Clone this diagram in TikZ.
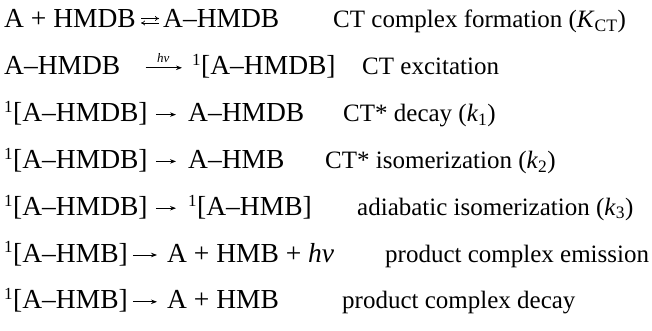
\documentclass[tikz,border=0pt]{standalone}
\usepackage{fontspec}
\setmainfont{Liberation Serif}
\newfontfamily\eqfont{Liberation Serif}
\usetikzlibrary{arrows.meta}
\tikzset{
  eqn/.style={anchor=base west, inner sep=0pt, font=\eqfont\fontsize{27.5}{32}\selectfont},
  desc/.style={anchor=base west, inner sep=0pt, font=\eqfont\fontsize{25}{30}\selectfont},
  rxn/.style={line width=0.8pt, -{Stealth[length=6pt,width=4.5pt]}},
  eqm/.style={line width=0.7pt, -{To[length=4pt,width=5pt]}},
}
\newcommand{\sing}{\textsuperscript{\fontsize{17}{20}\selectfont 1}}
\newcommand{\rate}[2]{(\textit{#1}\textsubscript{#2})}

\begin{document}
\begin{tikzpicture}[x=1pt, y=1pt]
		%%%%% START %%%%%
		\useasboundingbox (0, 0) rectangle (652, 330);
		
		% complex formation
		\node[eqn] (l1) at (4, 302) {A + HMDB};
		\node[eqn] (r1) at (163, 302) {A–HMDB};
		\node[desc] (d1) at (333, 302) {CT complex formation \rate{K}{CT}};
		\draw[eqm, shorten <=5pt, shorten >=4pt]
			([yshift=9.5pt]l1.base east) -- ([yshift=9.5pt]r1.base west);
		\draw[eqm, shorten <=4pt, shorten >=5pt]
			([yshift=5pt]r1.base west) -- ([yshift=5pt]l1.base east);
		
		% excitation
		\node[eqn] (l2) at (4, 255.2) {A–HMDB};
		\node[eqn] (r2) at (192, 255.2) {\sing[A–HMDB]};
		\node[desc] (d2) at (362, 255.2) {CT excitation};
		\draw[rxn, shorten <=25pt, shorten >=10pt]
			([yshift=7pt]l2.base east) -- ([yshift=7pt]r2.base west)
			node[midway, above=1pt, xshift=7pt, font=\eqfont\fontsize{13}{15}\selectfont\itshape] {hν};
		
		% CT* decay
		\node[eqn] (l3) at (4, 208.4) {\sing[A–HMDB]};
		\node[eqn] (r3) at (188, 208.4) {A–HMDB};
		\node[desc] (d3) at (343, 208.4) {CT* decay \rate{k}{1}};
		\draw[rxn, shorten <=8pt, shorten >=12pt]
			([yshift=7pt]l3.base east) -- ([yshift=7pt]r3.base west);
		
		% CT* isomerization
		\node[eqn] (l4) at (4, 161.6) {\sing[A–HMDB]};
		\node[eqn] (r4) at (188, 161.6) {A–HMB};
		\node[desc] (d4) at (325, 161.6) {CT* isomerization \rate{k}{2}};
		\draw[rxn, shorten <=8pt, shorten >=12pt]
			([yshift=7pt]l4.base east) -- ([yshift=7pt]r4.base west);
		
		% adiabatic isomerization
		\node[eqn] (l5) at (4, 114.8) {\sing[A–HMDB]};
		\node[eqn] (r5) at (188, 114.8) {\sing[A–HMB]};
		\node[desc] (d5) at (357, 114.8) {adiabatic isomerization \rate{k}{3}};
		\draw[rxn, shorten <=8pt, shorten >=12pt]
			([yshift=7pt]l5.base east) -- ([yshift=7pt]r5.base west);
		
		% product complex emission
		\node[eqn] (l6) at (4, 68) {\sing[A–HMB]};
		\node[eqn] (r6) at (167, 68) {A + HMB + \textit{hν}};
		\node[desc] (d6) at (385, 68) {product complex emission};
		\draw[rxn, shorten <=5pt, shorten >=10pt]
			([yshift=7pt]l6.base east) -- ([yshift=7pt]r6.base west);
		
		% product complex decay
		\node[eqn] (l7) at (4, 21.2) {\sing[A–HMB]};
		\node[eqn] (r7) at (167, 21.2) {A + HMB};
		\node[desc] (d7) at (342, 21.2) {product complex decay};
		\draw[rxn, shorten <=5pt, shorten >=10pt]
			([yshift=7pt]l7.base east) -- ([yshift=7pt]r7.base west);
		
		%%%%% END %%%%%
\end{tikzpicture}
\end{document}
